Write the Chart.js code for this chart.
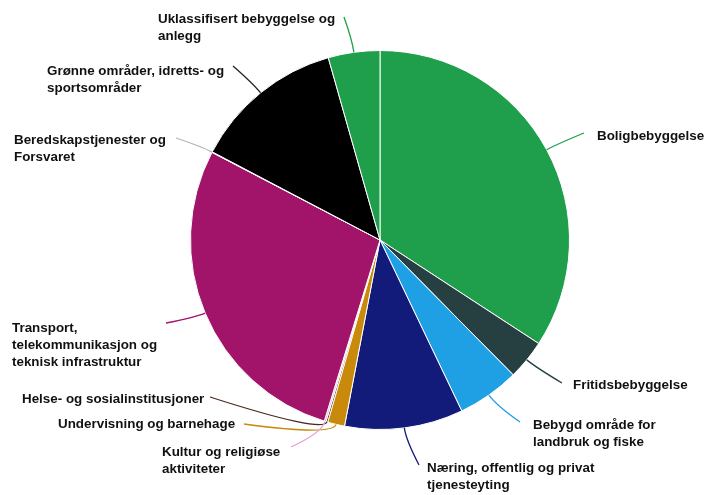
<!DOCTYPE html>
<html>
<head>
<meta charset="utf-8">
<script src="https://cdn.jsdelivr.net/npm/chart.js@4.4.1/dist/chart.umd.min.js"></script>
<style>
  html, body { margin: 0; padding: 0; background: #fff; }
  #wrap { width: 707px; height: 495px; position: relative; }
</style>
</head>
<body>
<div id="wrap"><canvas id="pieChart"></canvas></div>
<script>
// categories (clockwise from 12 o'clock)
const categories = [
  "Boligbebyggelse",
  "Fritidsbebyggelse",
  "Bebygd område for landbruk og fiske",
  "Næring, offentlig og privat tjenesteyting",
  "Undervisning og barnehage",
  "Helse- og sosialinstitusjoner",
  "Kultur og religiøse aktiviteter",
  "Transport, telekommunikasjon og teknisk infrastruktur",
  "Beredskapstjenester og Forsvaret",
  "Grønne områder, idretts- og sportsområder",
  "Uklassifisert bebyggelse og anlegg",
];

// share of area, percent
const shares = [34.2, 3.4, 5.3, 10.1, 1.45, 0.15, 0.15, 27.9, 0.05, 12.9, 4.4];

const colors = [
  "#1f9e4b", "#263f40", "#1fa0e5", "#131b7a", "#c98a0c",
  "#4a2a1c", "#e3a3d3", "#a1146a", "#b5b5b5", "#000000", "#1f9e4b",
];

// label text, wrapped as in the picture
const labelLines = [
  ["Boligbebyggelse"],
  ["Fritidsbebyggelse"],
  ["Bebygd område for", "landbruk og fiske"],
  ["Næring, offentlig og privat", "tjenesteyting"],
  ["Undervisning og barnehage"],
  ["Helse- og sosialinstitusjoner"],
  ["Kultur og religiøse", "aktiviteter"],
  ["Transport,", "telekommunikasjon og", "teknisk infrastruktur"],
  ["Beredskapstjenester og", "Forsvaret"],
  ["Grønne områder, idretts- og", "sportsområder"],
  ["Uklassifisert bebyggelse og", "anlegg"],
];

// label layout: text left x, first line middle y, connector end point
const labelLayout = [
  { x: 597, y: 136, ex: 584, ey: 133 },
  { x: 573, y: 385, ex: 562, ey: 383 },
  { x: 533, y: 425, ex: 520, ey: 422 },
  { x: 427, y: 468, ex: 419, ey: 465 },
  { x: 58, y: 424, ex: 244, ey: 424 },
  { x: 22, y: 399, ex: 210, ey: 397 },
  { x: 162, y: 452, ex: 291, ey: 447 },
  { x: 12, y: 328, ex: 166, ey: 323 },
  { x: 14, y: 140, ex: 176, ey: 138 },
  { x: 47, y: 71, ex: 233, ey: 66 },
  { x: 158, y: 19, ex: 344, ey: 17 },
];

const pieLabels = {
  id: "pieLabels",
  afterDraw(chart) {
    const ctx = chart.ctx;
    const arcs = chart.getDatasetMeta(0).data;
    ctx.save();
    arcs.forEach((arc, i) => {
      const { x, y, startAngle, endAngle, outerRadius } = arc.getProps(
        ["x", "y", "startAngle", "endAngle", "outerRadius"],
        true,
      );
      const mid = (startAngle + endAngle) / 2;
      const px = x + Math.cos(mid) * outerRadius;
      const py = y + Math.sin(mid) * outerRadius;
      const qx = x + Math.cos(mid) * (outerRadius + 12);
      const qy = y + Math.sin(mid) * (outerRadius + 12);
      const l = labelLayout[i];

      ctx.strokeStyle = colors[i] === "#000000" ? "#222" : colors[i];
      ctx.lineWidth = 1.3;
      ctx.beginPath();
      ctx.moveTo(px, py);
      ctx.quadraticCurveTo(qx, qy, l.ex, l.ey);
      ctx.stroke();

      ctx.fillStyle = "#111";
      ctx.font = "bold 13.4px 'Liberation Sans', Arial, sans-serif";
      ctx.textAlign = "left";
      ctx.textBaseline = "middle";
      labelLines[i].forEach((t, k) => {
        ctx.fillText(t, l.x, l.y + k * 17);
      });
    });
    ctx.restore();
  },
};

new Chart(document.getElementById("pieChart"), {
  type: "pie",
  data: {
    labels: categories,
    datasets: [
      {
        data: shares,
        backgroundColor: colors,
        borderColor: "#ffffff",
        borderWidth: 1,
      },
    ],
  },
  options: {
    responsive: true,
    maintainAspectRatio: false,
    animation: false,
    layout: { padding: { left: 190, right: 137, top: 50, bottom: 65 } },
    plugins: {
      legend: { display: false },
      tooltip: { enabled: false },
    },
  },
  plugins: [pieLabels],
});
</script>
</body>
</html>
